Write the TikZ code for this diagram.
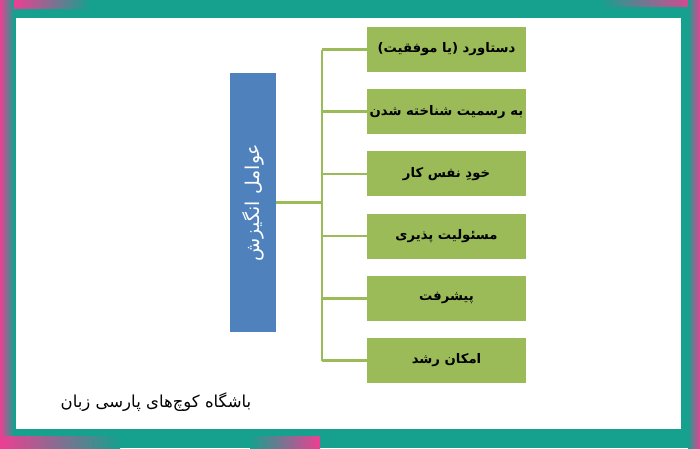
\documentclass[tikz,border=0pt]{standalone}
\usepackage{fontspec}
\newfontfamily\arabicfont[Script=Arabic]{DejaVu Sans}
\TeXXeTstate=1
\definecolor{boxgreen}{HTML}{9BBB59}
\definecolor{boxblue}{HTML}{4F81BD}
\definecolor{frameteal}{HTML}{16A08E}
\definecolor{framepink}{HTML}{EC3F93}
\begin{document}
\begin{tikzpicture}[x=1pt,y=-1pt,
		factor/.style={fill=boxgreen,minimum width=159pt,minimum height=45pt,inner sep=0pt,font=\arabicfont\bfseries\fontsize{13.2}{15}\selectfont},
		link/.style={draw=boxgreen,line width=2.5pt}]
			\def\boxx{446.5}
			\def\trunkx{322}
			\def\gap{62.2}
			\useasboundingbox (0,0) rectangle (700,448);
			% frame
			\fill[frameteal] (0,0) rectangle (700,448);
			\shade[left color=framepink,right color=frameteal] (0,0) rectangle (14,448);
			\shade[left color=framepink,right color=frameteal] (14,0) rectangle (90,8);
			\shade[left color=frameteal,right color=framepink] (600,0) rectangle (700,6);
			\shade[left color=frameteal,right color=framepink] (688,0) rectangle (700,448);
			\shade[left color=framepink,right color=frameteal] (0,436) rectangle (120,448);
			\shade[left color=frameteal,right color=framepink] (250,436) rectangle (320,448);
			\fill[white] (16,18) rectangle (681,429);
			% main node
			\node[fill=boxblue,minimum width=46pt,minimum height=259pt,inner sep=0pt] (motiv) at (253,202.5) {};
			\node[rotate=90,text=white,font=\arabicfont\fontsize{19}{22}\selectfont] (motivtext) at (motiv.center) {\beginR عوامل انگیزش\endR};
			% factors
			\node[factor] (f1) at (\boxx,49.5) {\beginR دستاورد (یا موفقیت)\endR};
			\node[factor] (f2) at (\boxx,49.5+\gap) {\beginR به رسمیت شناخته شدن\endR};
			\node[factor] (f3) at (\boxx,49.5+2*\gap) {\beginR خودِ نفس کار\endR};
			\node[factor] (f4) at (\boxx,49.5+3*\gap) {\beginR مسئولیت پذیری\endR};
			\node[factor] (f5) at (\boxx,49.5+4*\gap) {\beginR پیشرفت\endR};
			\node[factor] (f6) at (\boxx,49.5+5*\gap) {\beginR امکان رشد\endR};
			% connectors
			\coordinate (hub) at (\trunkx,202.5);
			\coordinate (top) at (\trunkx,49.5);
			\coordinate (bottom) at (\trunkx,49.5+5*\gap);
			\draw[link] (motiv.east)--(hub);
			\draw[link] (top)--(bottom);
			\foreach \i in {1,...,6}\draw[link] (\trunkx,49.5+\i*\gap-\gap)--(f\i.west);
			\node[font=\arabicfont\fontsize{16.5}{19}\selectfont] (club) at (156,402) {\beginR باشگاه کوچ‌های پارسی زبان\endR};
	\end{tikzpicture}
\end{document}
